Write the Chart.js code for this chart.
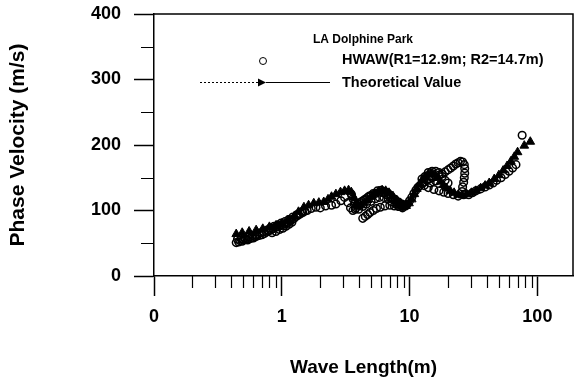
<!DOCTYPE html>
<html>
<head>
<meta charset="utf-8">
<script src="https://cdn.jsdelivr.net/npm/chart.js@4/dist/chart.umd.min.js"></script>
<style>
  html, body { margin: 0; padding: 0; background: #fff; }
  #wrap { width: 579px; height: 383px; }
</style>
</head>
<body>
<div id="wrap"><canvas id="c" width="579" height="383"></canvas></div>
<script>
// ---- Data ----
const hwawLambda = [
  0.44,0.46,0.47,0.49,0.50,0.52,0.54,0.56,0.58,0.60,0.62,0.64,0.67,0.70,0.73,0.76,0.79,0.82,0.85,0.88,
  0.91,0.94,0.97,1.00,1.04,1.08,1.12,1.16,1.20,1.25,1.30,1.35,1.40,1.46,1.52,1.58,
  0.84,0.90,0.96,1.02,1.08,1.14,1.20,
  0.45,0.48,0.51,0.55,0.59,0.63,0.68,0.72,0.77,0.81,0.87,0.93,0.99,1.06,1.13,1.22,1.32,1.43,
  1.70,1.85,2.00,2.20,2.45,2.65,2.90,3.10,3.30,3.45,3.60,3.75,
  3.90,4.10,4.40,4.70,5.00,5.40,5.80,6.20,6.60,7.00,7.50,8.00,8.50,9.00,
  3.50,3.60,3.70,3.80,4.00,4.25,4.55,4.85,5.20,5.60,6.00,6.40,6.80,7.20,7.70,8.20,8.70,9.20,
  4.00,4.30,4.60,5.00,5.40,5.80,6.30,6.80,7.30,7.80,8.30,8.80,
  4.30,4.50,4.70,4.90,5.20,5.50,5.90,6.40,7.00,7.60,8.20,8.80,9.30,
  9.60,10.0,10.4,10.8,11.2,11.6,12.0,12.5,13.0,13.6,14.2,15.0,16.0,17.0,18.0,19.0,20.0,21.0,22.0,23.0,
  12.5,13.2,14.0,15.0,16.0,17.0,18.0,19.0,20.0,13.0,14.5,16.0,
  24.0,25.0,26.0,26.8,27.0,27.0,26.8,26.5,26.0,25.8,
  14.0,15.5,17.0,18.5,20.0,22.0,24.0,
  26.5,29.0,31.0,33.0,36.0,39.0,42.0,45.0,48.0,52.0,56.0,60.0,64.0,68.0,76.0
];
const hwawVelocity = [
  51,52,54,53,55,56,55,57,58,58,60,61,62,63,65,67,69,70,72,74,
  75,75,77,78,77,80,82,84,86,88,91,93,95,97,99,100,
  66,68,71,73,76,79,82,
  56,57,58,60,62,63,66,68,70,73,76,78,81,83,86,90,94,98,
  103,105,104,107,108,110,115,120,112,104,100,102,
  108,112,116,120,123,126,128,127,124,120,116,112,109,107,
  125,118,110,104,110,114,118,122,126,130,131,129,126,121,117,113,110,108,
  102,106,110,114,118,120,120,118,113,110,106,104,
  88,91,94,97,100,103,105,107,108,107,106,106,107,
  110,115,120,126,131,135,138,141,143,146,148,150,152,154,156,159,162,165,168,171,
  148,152,158,160,160,158,152,146,142,138,142,145,
  173,175,174,170,164,157,150,143,136,129,
  135,132,130,128,126,124,122,
  124,124,127,130,133,136,139,142,146,150,155,160,165,170,215
];
const theoryLambda = [
  0.44,0.49,0.555,0.63,0.71,0.80,0.90,1.0,1.12,1.25,1.35,1.49,1.62,1.78,1.95,2.13,2.3,2.45,2.65,2.88,
  3.1,3.33,3.5,3.65,3.8,3.95,4.15,4.4,4.7,5.0,5.35,5.7,6.1,6.5,6.9,7.4,7.9,8.4,8.9,9.4,
  9.9,10.4,10.9,11.4,12.0,12.6,13.2,13.9,14.7,15.5,16.4,17.4,18.4,19.5,20.8,22.3,24,26,28,30.5,
  33,36,39,42,46,50,54,58,62,66,70,79,88
];
const theoryVelocity = [
  64,66,68,70,72,75,77,80,85,91,98,105,108,111,112,113,117,121,125,128,
  130,131,128,120,110,106,108,111,116,121,126,129,131,130,127,122,116,111,108,107,
  111,117,125,133,140,147,152,155,157,155,150,144,139,134,130,127,124,123,125,127,
  130,134,138,142,148,154,161,168,175,182,189,199,205
];
const xTickValues = [0.1,0.2,0.3,0.4,0.5,0.6,0.7,0.8,0.9,1,2,3,4,5,6,7,8,9,10,20,30,40,50,60,70,80,90,100];
const xTickLabels = {0.1: '0', 1: '1', 10: '10', 100: '100'};
const yMinorTicks = [50,150,250,350];
const seriesNames = ['HWAW(R1=12.9m; R2=14.7m)', 'Theoretical Value'];
const legendTitle = 'LA Dolphine Park';
const xTitle = 'Wave Length(m)';
const yTitle = 'Phase Velocity (m/s)';

const FONT = '"Liberation Sans", Arial, sans-serif';
const isDecade = v => Math.abs(Math.log10(v) - Math.round(Math.log10(v))) < 1e-9;

const toPts = (xs, ys) => xs.map((x, i) => ({x: x, y: ys[i]}));

const framePlugin = {
  id: 'frameAndLegend',
  afterDraw(chart) {
    const ctx = chart.ctx;
    const ca = chart.chartArea;
    const xs = chart.scales.x, ys = chart.scales.y;
    ctx.save();
    ctx.strokeStyle = '#000';
    ctx.lineWidth = 1.5;
    ctx.beginPath();
    ctx.moveTo(ca.left, ca.top); ctx.lineTo(ca.right, ca.top); ctx.lineTo(ca.right, ca.bottom);
    ctx.stroke();
    ctx.lineWidth = 1.2;
    ctx.beginPath();
    xTickValues.filter(v => !isDecade(v)).forEach(v => {
      const px = Math.round(xs.getPixelForValue(v)) + 0.5;
      ctx.moveTo(px, ca.bottom); ctx.lineTo(px, ca.bottom + 12);
    });
    yMinorTicks.forEach(v => {
      const py = Math.round(ys.getPixelForValue(v)) + 0.5;
      ctx.moveTo(ca.left, py); ctx.lineTo(ca.left - 13, py);
    });
    ctx.stroke();
    const L = ca.left, T = ca.top;
    ctx.fillStyle = '#000';
    ctx.textBaseline = 'middle';
    ctx.textAlign = 'left';
    ctx.font = 'bold 12px ' + FONT;
    ctx.fillText(legendTitle, L + 159, T + 26);
    ctx.font = 'bold 14.5px ' + FONT;
    ctx.fillText(seriesNames[0], L + 188, T + 46);
    ctx.fillText(seriesNames[1], L + 188, T + 69);
    ctx.lineWidth = 1;
    ctx.beginPath();
    ctx.arc(L + 109, T + 47, 3.5, 0, Math.PI * 2);
    ctx.stroke();
    const ly = T + 68.5;
    ctx.beginPath();
    ctx.setLineDash([2, 2]);
    ctx.moveTo(L + 46, ly); ctx.lineTo(L + 104, ly);
    ctx.stroke();
    ctx.setLineDash([]);
    ctx.beginPath();
    ctx.moveTo(L + 112, ly); ctx.lineTo(L + 176, ly);
    ctx.stroke();
    ctx.beginPath();
    ctx.moveTo(L + 104, ly - 4); ctx.lineTo(L + 112, ly); ctx.lineTo(L + 104, ly + 4); ctx.closePath();
    ctx.fill();
    ctx.restore();
  }
};

new Chart(document.getElementById('c'), {
  type: 'scatter',
  data: {
    datasets: [
      {
        label: seriesNames[0],
        data: toPts(hwawLambda, hwawVelocity),
        pointStyle: 'circle',
        pointRadius: 3.8,
        borderWidth: 1.5,
        borderColor: '#000',
        backgroundColor: 'rgba(255,255,255,0)',
        showLine: false
      },
      {
        label: seriesNames[1],
        data: toPts(theoryLambda, theoryVelocity),
        pointStyle: 'triangle',
        pointRadius: 5,
        borderWidth: 1,
        borderColor: '#000',
        backgroundColor: '#000',
        showLine: false
      }
    ]
  },
  options: {
    responsive: false,
    animation: false,
    devicePixelRatio: 1,
    layout: { padding: { top: 14, right: 3, left: 0, bottom: 0 } },
    plugins: { legend: { display: false }, tooltip: { enabled: false } },
    scales: {
      x: {
        type: 'logarithmic',
        min: 0.1,
        max: 190,
        afterBuildTicks: s => { s.ticks = xTickValues.map(v => ({value: v})); },
        afterFit: s => { s.height = 107; s.paddingLeft = 0; s.paddingRight = 0; },
        ticks: {
          autoSkip: false, maxRotation: 0, minRotation: 0,
          color: '#000',
          padding: 10,
          font: { family: FONT, size: 18, weight: 'bold' },
          callback: (v) => {
            for (const k in xTickLabels) { if (Math.abs(Number(k) - v) < 1e-9) return xTickLabels[k]; }
            return '';
          }
        },
        grid: {
          display: true, drawOnChartArea: false, drawTicks: true, tickLength: 20,
          tickWidth: 1.5,
          tickColor: c => (c.tick && isDecade(c.tick.value)) ? '#000' : 'rgba(0,0,0,0)'
        },
        border: { display: true, color: '#000', width: 1.5 },
        title: {
          display: true, text: xTitle, color: '#000',
          font: { family: FONT, size: 19, weight: 'bold' },
          padding: { top: 0, bottom: 4 }
        }
      },
      y: {
        min: 0, max: 400,
        afterFit: s => { s.width = 154; s.paddingTop = 0; s.paddingBottom = 0; },
        ticks: {
          stepSize: 50, color: '#000', padding: 13,
          font: { family: FONT, size: 18, weight: 'bold' },
          callback: v => (v % 100 === 0 ? String(v) : '')
        },
        grid: {
          display: true, drawOnChartArea: false, drawTicks: true, tickLength: 20,
          tickWidth: 1.5,
          tickColor: c => (c.tick && c.tick.value % 100 === 0) ? '#000' : 'rgba(0,0,0,0)'
        },
        border: { display: true, color: '#000', width: 1.5 },
        title: {
          display: true, text: yTitle, color: '#000',
          font: { family: FONT, size: 21, weight: 'bold' },
          padding: { top: 6, bottom: 0 }
        }
      }
    }
  },
  plugins: [framePlugin]
});
</script>
</body>
</html>
